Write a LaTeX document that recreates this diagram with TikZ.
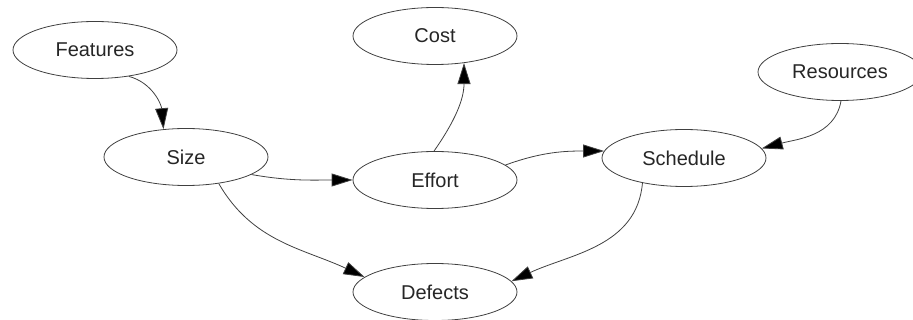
\documentclass[tikz,border=0pt]{standalone}
\usepackage{fontspec}
\setmainfont{Liberation Sans}
\usetikzlibrary{shapes.geometric,arrows.meta}
\begin{document}
\begin{tikzpicture}[x=1pt,y=-1pt,
  nd/.style={draw=black!75,line width=0.8pt,ellipse,minimum width=164pt,minimum height=57pt,inner sep=0pt,font=\fontsize{20}{23}\selectfont,text=black!85},
  ed/.style={draw=black!75,line width=0.8pt,-{Triangle[length=21pt,width=13pt,fill=black]}}]
\useasboundingbox (0,0) rectangle (913,320);
\clip (0,0) rectangle (913,320);
\node[nd] (features) at (95,50) {Features};
\node[nd] (cost) at (435,36) {Cost};
\node[nd] (resources) at (840,72) {Resources};
\node[nd] (size) at (186,157) {Size};
\node[nd] (effort) at (435,180) {Effort};
\node[nd] (schedule) at (684,158) {Schedule};
\node[nd] (defects) at (435,292) {Defects};
\draw[ed] (features.-38) to[out=-15,in=95] (size.129);
\draw[ed] (size.-15) to[out=-10,in=180] (effort.180);
\draw[ed] (effort.92) to[out=55,in=-90] (cost.-43);
\draw[ed] (effort.12) to[out=20,in=180] (schedule.175);
\draw[ed] (resources.-88) to[out=-100,in=15] (schedule.7);
\draw[ed] (size.-39) to[out=-60,in=155] (defects.168);
\draw[ed] (schedule.-149) to[out=-95,in=25] (defects.8);
\end{tikzpicture}
\end{document}
